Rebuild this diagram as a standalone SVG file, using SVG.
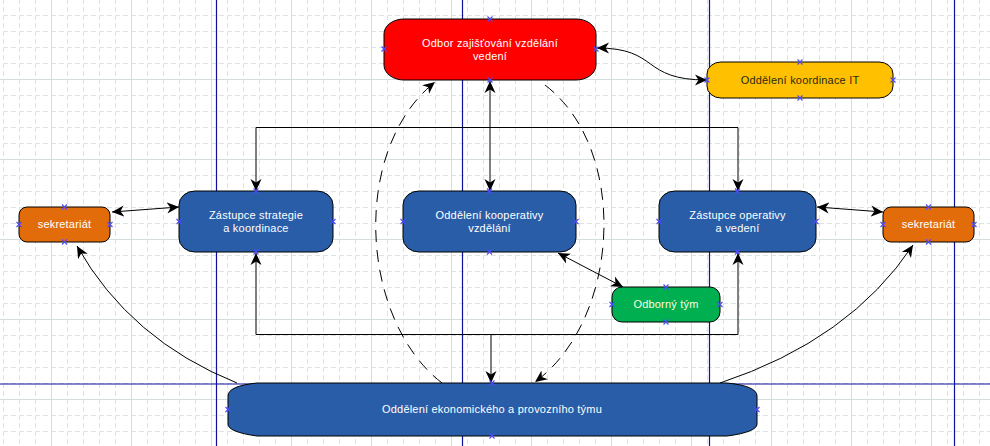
<svg xmlns="http://www.w3.org/2000/svg" xmlns:xlink="http://www.w3.org/1999/xlink" width="990" height="446" viewBox="0 0 990 446">
<defs>
<style>
.minor{stroke:#dde2e2;stroke-width:1;stroke-dasharray:5 3;fill:none}
.major{stroke:#d6dddd;stroke-width:1;fill:none}
.guide{stroke:#10109e;stroke-width:1.2;fill:none}
.node{stroke:#000;stroke-width:1}
.blue{fill:#2a5da8}
.lbl{font-family:"Liberation Sans",Arial,sans-serif;font-size:11px;fill:#fff;text-anchor:middle;letter-spacing:0.2px}
.dark{fill:#2b2b10}
.conn{stroke:#000;stroke-width:1;fill:none}
.dash{stroke-dasharray:12 8}
.xm{stroke:#4a4aff;stroke-width:1.1}
</style>
<pattern id="grid" patternUnits="userSpaceOnUse" x="3" y="15" width="80" height="80">
<path class="minor" d="M0.5,0V80M16.5,0V80M32.5,0V80M64.5,0V80M0,0.5H80M0,16.5H80M0,32.5H80M0,48.5H80"/>
<path class="major" d="M48.5,0V80M0,64.5H80"/>
</pattern>
<marker id="arr" viewBox="-12 -6 13 12" refX="0" refY="0" markerWidth="13" markerHeight="12" markerUnits="userSpaceOnUse" orient="auto-start-reverse">
<path d="M0,0 L-12,-5.5 L-8.5,0 L-12,5.5 Z" fill="#000"/>
</marker>
<path id="x" class="xm" d="M-2.5,-2.5L2.5,2.5M-2.5,2.5L2.5,-2.5"/>
</defs>
<rect width="990" height="446" fill="#fff"/>
<rect width="990" height="446" fill="url(#grid)"/>
<g id="guides">
<path class="guide" d="M216.5,0V446M462.5,0V446M709.5,0V446M954.5,0V446M0,384H990"/>
</g>
<g id="connectors">
<path class="conn" d="M597,48 C660,48 640,80 707,80" marker-start="url(#arr)" marker-end="url(#arr)"/>
<path class="conn" d="M490,81 L490,191" marker-start="url(#arr)" marker-end="url(#arr)"/>
<path class="conn" d="M112,212 L179,207" marker-start="url(#arr)" marker-end="url(#arr)"/>
<path class="conn" d="M817,207 L883,212" marker-start="url(#arr)" marker-end="url(#arr)"/>
<path class="conn" d="M558,253 L623,287" marker-start="url(#arr)" marker-end="url(#arr)"/>
<path class="conn" d="M256,191 L256,127.5 L738,127.5 L738,191" marker-start="url(#arr)" marker-end="url(#arr)"/>
<path class="conn" d="M256,253 L256,334.5 L738,334.5 L738,253" marker-start="url(#arr)" marker-end="url(#arr)"/>
<path class="conn" d="M491,334 L491,383" marker-end="url(#arr)"/>
<path class="conn" d="M237,383 Q130,340 77,246" marker-end="url(#arr)"/>
<path class="conn" d="M720,383 Q850,340 913,245" marker-end="url(#arr)"/>
<path class="conn dash" d="M442,383 C360,320 350,150 435,82" marker-end="url(#arr)"/>
<path class="conn dash" d="M545,85 C630,150 620,320 535,382" marker-end="url(#arr)"/>
</g>
<g id="odbor">
<rect class="node" x="384" y="19" width="212" height="61" rx="20" ry="15" fill="#fe0000"/>
<text class="lbl" x="490" y="47">Odbor zajišťování vzdělání</text>
<text class="lbl" x="490" y="60">vedení</text>
<use href="#x" x="490" y="19"/><use href="#x" x="490" y="80"/><use href="#x" x="384" y="49"/><use href="#x" x="596" y="49"/>
</g>
<g id="koordinace-it">
<rect class="node" x="707" y="62" width="186" height="36" rx="14" ry="12" fill="#ffc000"/>
<text class="lbl dark" x="800" y="84">Oddělení koordinace IT</text>
<use href="#x" x="800" y="62"/><use href="#x" x="800" y="98"/><use href="#x" x="707" y="80"/><use href="#x" x="893" y="80"/>
</g>
<g id="sekretariat-l">
<rect class="node" x="19" y="207" width="91" height="35" rx="8" fill="#e36c0a"/>
<text class="lbl" x="64.5" y="228">sekretariát</text>
<use href="#x" x="64.5" y="207"/><use href="#x" x="64.5" y="242"/><use href="#x" x="19" y="224.5"/><use href="#x" x="110" y="224.5"/>
</g>
<g id="zastupce-strategie">
<rect class="node blue" x="179" y="191" width="154" height="61" rx="16" ry="14"/>
<text class="lbl" x="256" y="219">Zástupce strategie</text>
<text class="lbl" x="256" y="232">a koordinace</text>
<use href="#x" x="256" y="191"/><use href="#x" x="256" y="252"/><use href="#x" x="179" y="221.5"/><use href="#x" x="333" y="221.5"/>
</g>
<g id="kooperativy">
<rect class="node blue" x="403" y="191" width="173" height="61" rx="16" ry="14"/>
<text class="lbl" x="489.5" y="219">Oddělení kooperativy</text>
<text class="lbl" x="489.5" y="232">vzdělání</text>
<use href="#x" x="489.5" y="191"/><use href="#x" x="489.5" y="252"/><use href="#x" x="403" y="221.5"/><use href="#x" x="576" y="221.5"/>
</g>
<g id="zastupce-operativy">
<rect class="node blue" x="659" y="191" width="157" height="61" rx="16" ry="14"/>
<text class="lbl" x="737.5" y="219">Zástupce operativy</text>
<text class="lbl" x="737.5" y="232">a vedení</text>
<use href="#x" x="737.5" y="191"/><use href="#x" x="737.5" y="252"/><use href="#x" x="659" y="221.5"/><use href="#x" x="816" y="221.5"/>
</g>
<g id="sekretariat-r">
<rect class="node" x="883" y="207" width="91" height="35" rx="8" fill="#e36c0a"/>
<text class="lbl" x="928.5" y="228">sekretariát</text>
<use href="#x" x="928.5" y="207"/><use href="#x" x="928.5" y="242"/><use href="#x" x="883" y="224.5"/><use href="#x" x="974" y="224.5"/>
</g>
<g id="odborny-tym">
<rect class="node" x="612" y="287" width="108" height="35" rx="10" fill="#00b050"/>
<text class="lbl" x="666" y="308" style="fill:#fffbe0">Odborný tým</text>
<use href="#x" x="666" y="287"/><use href="#x" x="666" y="322"/><use href="#x" x="612" y="304.5"/><use href="#x" x="720" y="304.5"/>
</g>
<g id="ekonomicky">
<path class="node blue" d="M257,383 L727,383 Q757,386 757,396 L757,424 Q757,432 727,436 L257,436 Q228,432 228,424 L228,396 Q228,386 257,383 Z"/>
<text class="lbl" x="492" y="413">Oddělení ekonomického a provozního týmu</text>
<use href="#x" x="492" y="383"/><use href="#x" x="492" y="436"/><use href="#x" x="228" y="409.5"/><use href="#x" x="757" y="409.5"/>
</g>
</svg>
